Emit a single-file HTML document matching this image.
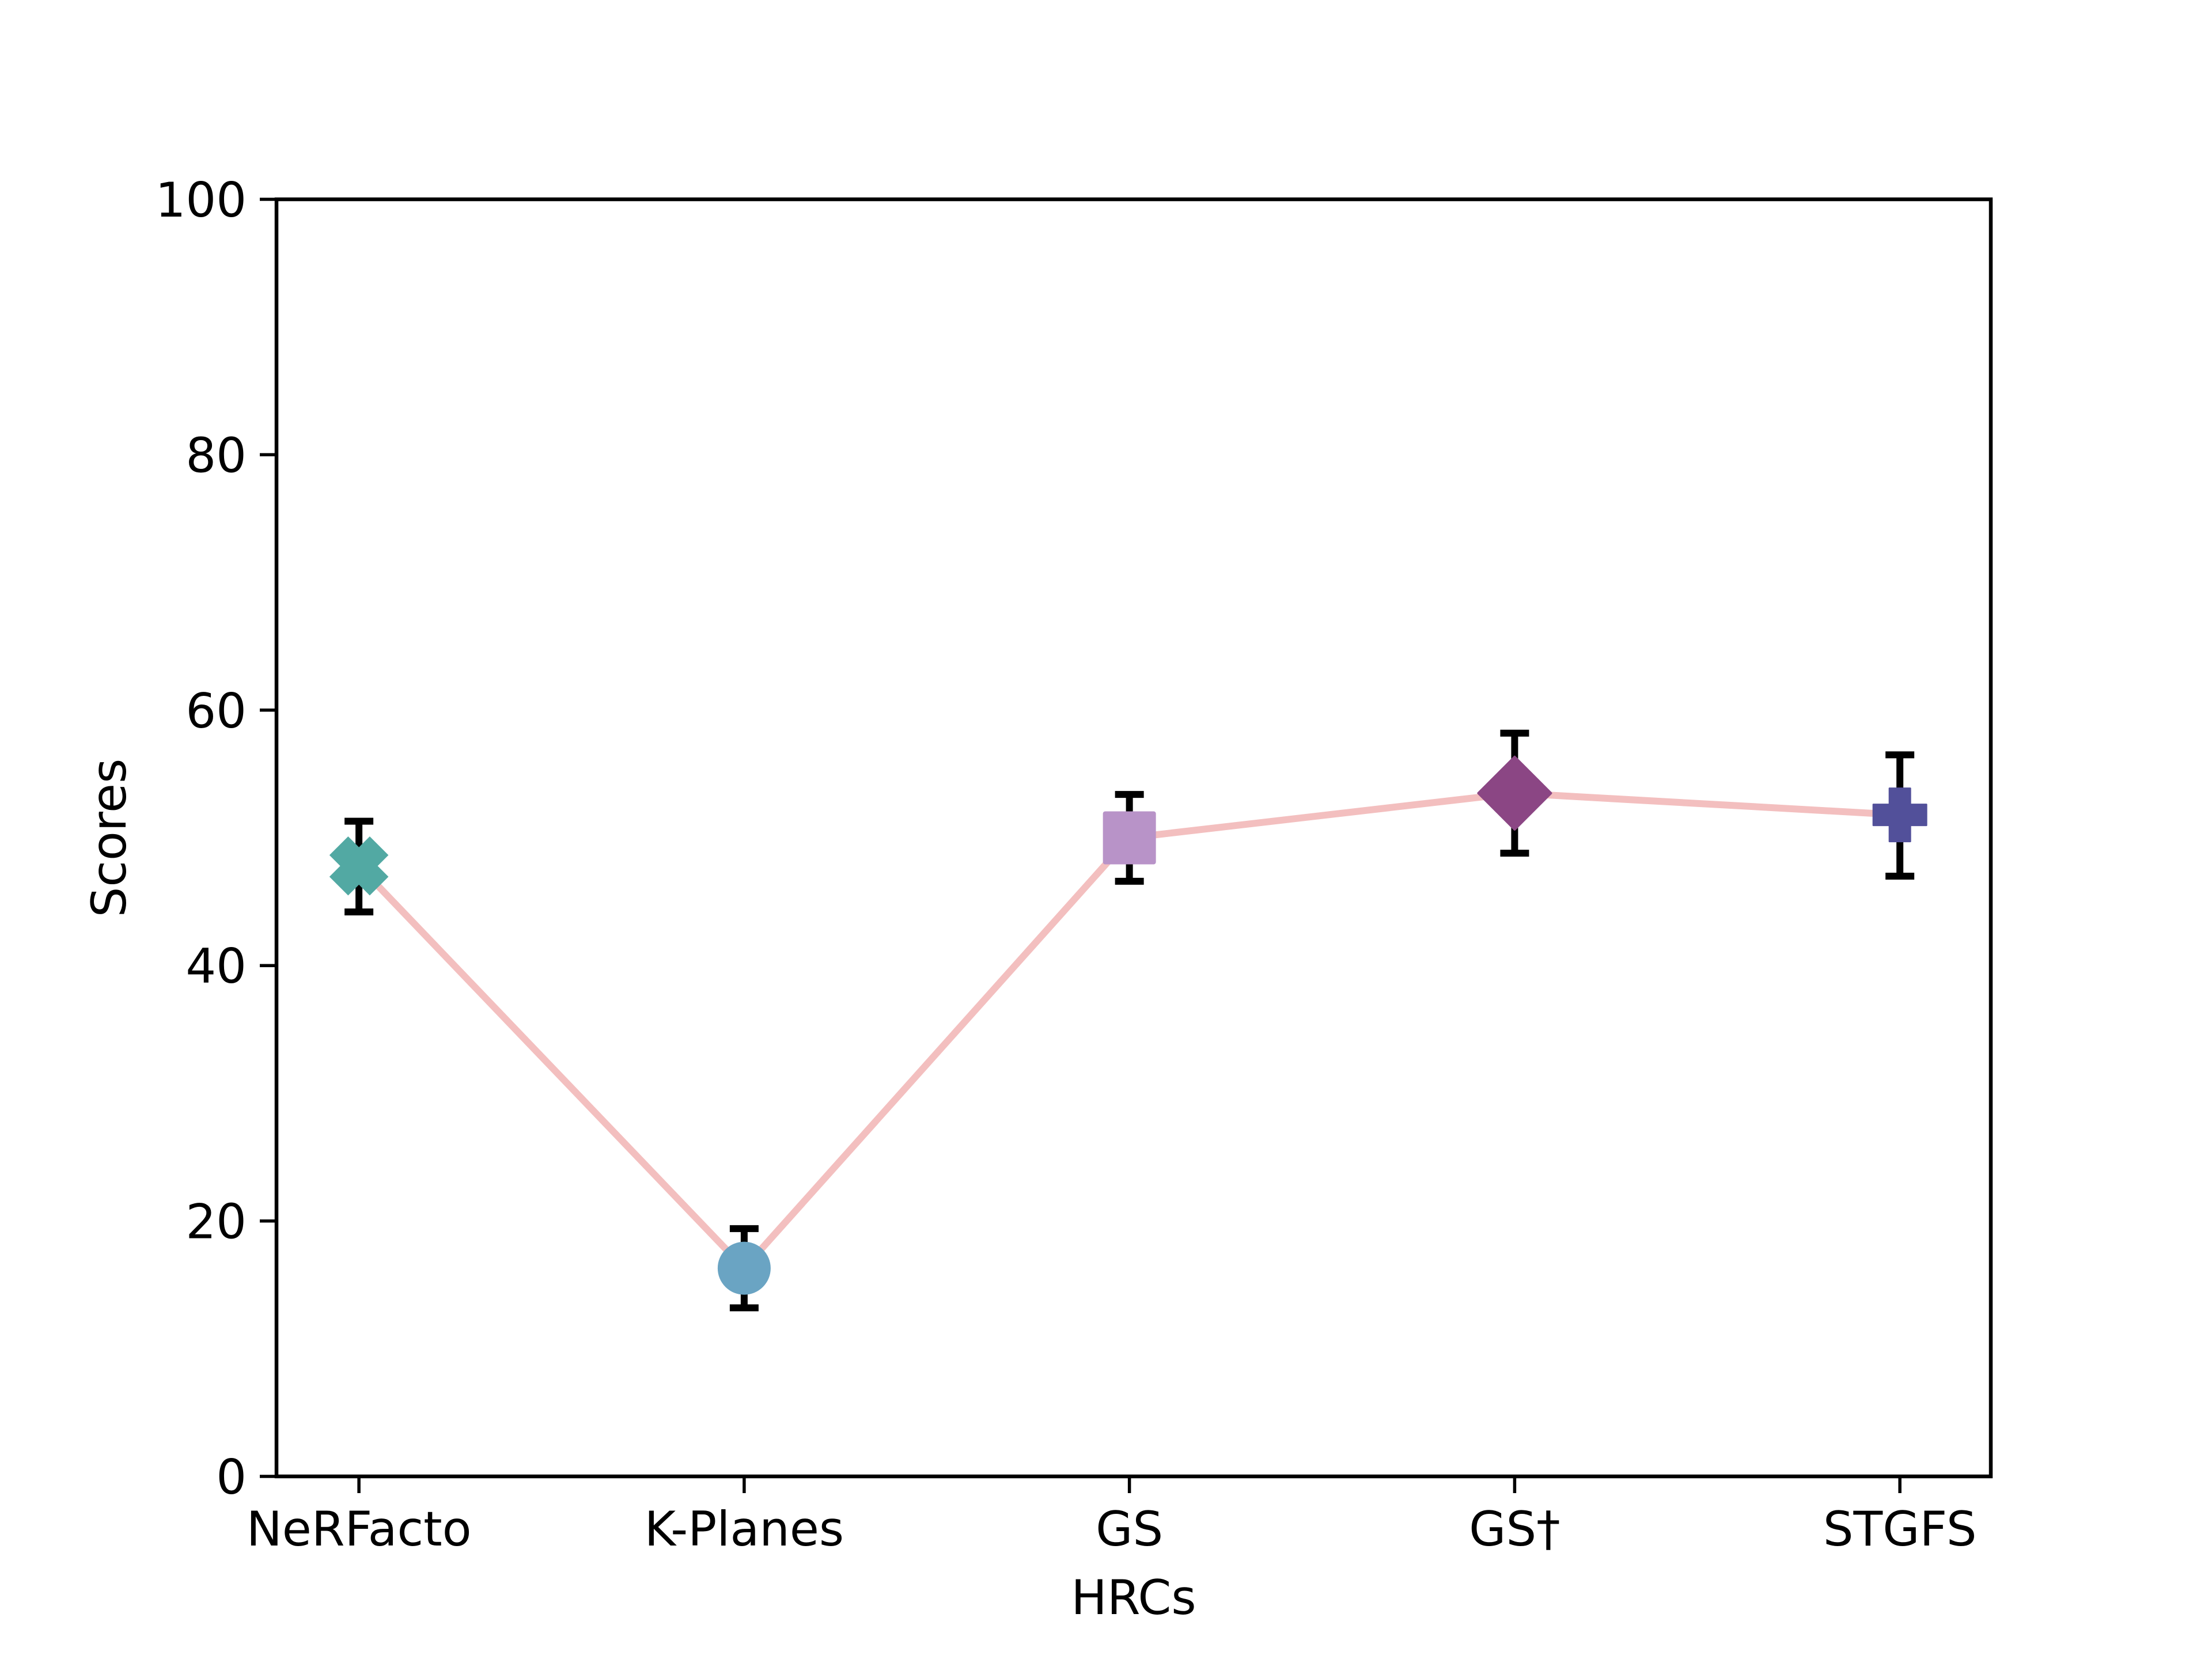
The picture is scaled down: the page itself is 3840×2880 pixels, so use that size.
<!DOCTYPE html>
<html><head><meta charset="utf-8"><style>
html,body{margin:0;padding:0;background:#fff;}
svg{display:block;}
text{font-family:"DejaVu Sans","Liberation Sans",sans-serif;fill:#000;}
</style></head><body>
<svg id="chart" width="3840" height="2880" viewBox="0 0 3840 2880" xmlns="http://www.w3.org/2000/svg">
<rect x="0" y="0" width="3840" height="2880" fill="#fff"/>
<g id="plot"></g>
</svg>
<script>
const categories = ["NeRFacto","K-Planes","GS","GS\u2020","STGFS"];
const scores = [47.8, 16.3, 50.0, 53.5, 51.8];
const errUpper = [51.3, 19.4, 53.4, 58.2, 56.5];
const errLower = [44.2, 13.2, 46.6, 48.8, 47.0];
const markers = ["X","o","s","D","P"];
const colors = ["#52a9a3","#6aa4c3","#b893c8","#8b4684","#52509a"];
const yTicks = [0,20,40,60,80,100];

const L=480,R=3456,T=346,B=2563;
const xMin=-0.214,xMax=4.236,yMin=0,yMax=100;
const xs=v=>L+(v-xMin)/(xMax-xMin)*(R-L);
const ys=v=>B-(v-yMin)/(yMax-yMin)*(B-T);
const NS="http://www.w3.org/2000/svg";
const g=document.getElementById('plot');
function mk(tag,attrs,parent){const e=document.createElementNS(NS,tag);for(const k in attrs)e.setAttribute(k,attrs[k]);(parent||g).appendChild(e);return e;}

const pts=scores.map((s,i)=>xs(i)+","+ys(s)).join(" ");
const line=mk('polyline',{points:pts,fill:'none',stroke:'#f3bfbf','stroke-width':12,'stroke-linejoin':'round'});



scores.forEach((s,i)=>{
  const x=xs(i);
  const eg=mk('g',{});
  
  
  mk('line',{x1:x,x2:x,y1:ys(errUpper[i]),y2:ys(errLower[i]),stroke:'#000','stroke-width':12},eg);
  mk('line',{x1:x-25,x2:x+25,y1:ys(errUpper[i]),y2:ys(errUpper[i]),stroke:'#000','stroke-width':12},eg);
  mk('line',{x1:x-25,x2:x+25,y1:ys(errLower[i]),y2:ys(errLower[i]),stroke:'#000','stroke-width':12},eg);
});

scores.forEach((s,i)=>{
  const x=xs(i),y=ys(s),c=colors[i];let m;
  if(markers[i]==='o') m=mk('circle',{cx:x,cy:y,r:46,fill:c});
  else if(markers[i]==='s') m=mk('rect',{x:x-46,y:y-46,width:92,height:92,rx:4,fill:c});
  else if(markers[i]==='D') m=mk('polygon',{points:`${x},${y-63} ${x+63},${y} ${x},${y+63} ${x-63},${y}`,fill:c,'stroke':c,'stroke-width':4,'stroke-linejoin':'round'});
  else if(markers[i]==='P'){const a=18,b=46;m=mk('polygon',{points:`${x-a},${y-b} ${x+a},${y-b} ${x+a},${y-a} ${x+b},${y-a} ${x+b},${y+a} ${x+a},${y+a} ${x+a},${y+b} ${x-a},${y+b} ${x-a},${y+a} ${x-b},${y+a} ${x-b},${y-a} ${x-a},${y-a}`,fill:c,stroke:c,'stroke-width':3,'stroke-linejoin':'round'});}
  else {const h=46;m=mk('g',{});
    mk('line',{x1:x-h+11,y1:y-h+11,x2:x+h-11,y2:y+h-11,stroke:c,'stroke-width':46,'stroke-linecap':'butt'},m);
    mk('line',{x1:x-h+11,y1:y+h-11,x2:x+h-11,y2:y-h+11,stroke:c,'stroke-width':46,'stroke-linecap':'butt'},m);}
  
  
});

const fr=mk('rect',{x:L,y:T,width:R-L,height:B-T,fill:'none',stroke:'#000','stroke-width':6.5});



yTicks.forEach(t=>{
  const y=ys(t);
  mk('line',{x1:L-29,x2:L,y1:y,y2:y,stroke:'#000','stroke-width':5.5});
  const tx=mk('text',{x:L-52,y:y+30,'text-anchor':'end','font-size':83});
  tx.textContent=t;
  
  
});
categories.forEach((c,i)=>{
  const x=xs(i);
  mk('line',{x1:x,x2:x,y1:B,y2:B+29,stroke:'#000','stroke-width':5.5});
  const tx=mk('text',{x:x,y:B+120,'text-anchor':'middle','font-size':83});
  tx.textContent=c;
  
  
});
const xt=mk('text',{x:(L+R)/2,y:2802,'text-anchor':'middle','font-size':83});
xt.textContent='HRCs';


const yt=mk('text',{x:0,y:0,'text-anchor':'middle','font-size':83,transform:`translate(218,${(T+B)/2}) rotate(-90)`});
yt.textContent='Scores';


</script>
</body></html>
